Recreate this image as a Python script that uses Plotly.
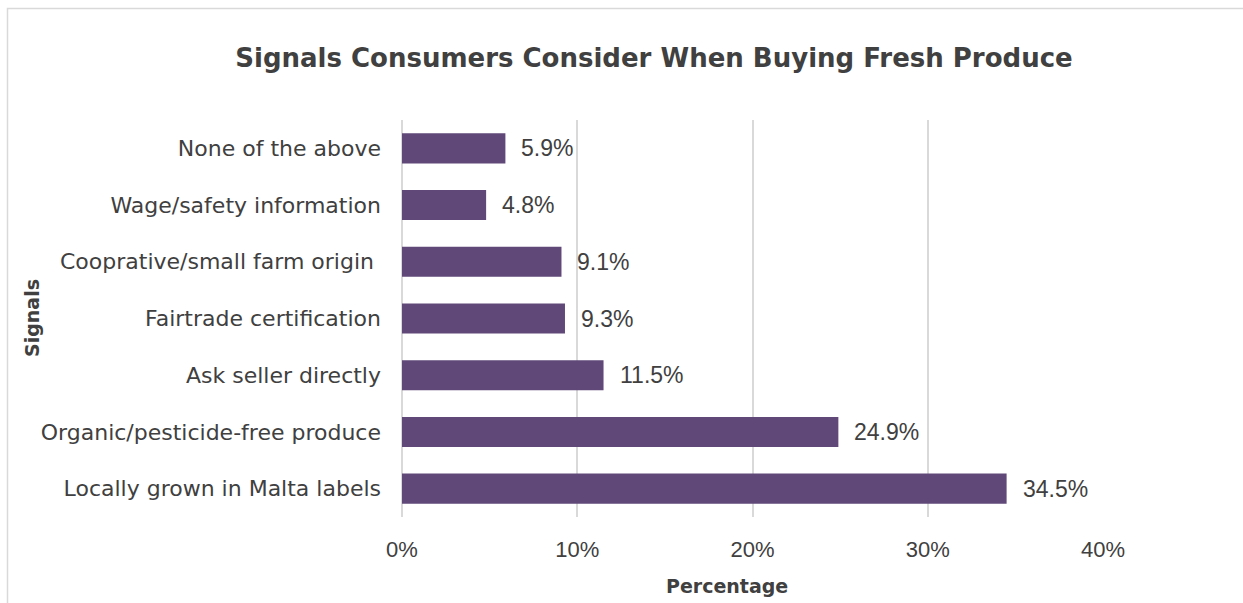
import plotly.graph_objects as go

# Survey results: share of respondents citing each signal
signals = [
    "Locally grown in Malta labels",
    "Organic/pesticide-free produce",
    "Ask seller directly",
    "Fairtrade certification",
    "Cooprative/small farm origin ",
    "Wage/safety information",
    "None of the above",
]
percent = [34.5, 24.9, 11.5, 9.3, 9.1, 4.8, 5.9]
x_ticks = [0, 10, 20, 30, 40]
x_tick_labels = ["0%", "10%", "20%", "30%", "40%"]

W, H = 1243, 603
L, R, T, B = 402, 140, 120, 86
PW, PH = W - L - R, H - T - B

BAR = "#604878"
TXT = "#404040"
GRID = "#d9d9d9"
CAT_FONT = "DejaVu Sans"
NUM_FONT = "Liberation Sans"

fig = go.Figure(
    go.Bar(
        x=percent,
        y=signals,
        orientation="h",
        marker=dict(color=BAR, line=dict(width=0)),
        hoverinfo="skip",
    )
)

# value labels just past each bar end
for v, s in zip(percent, signals):
    fig.add_annotation(
        x=v, y=s, text=f"{v:.1f}%", showarrow=False,
        xanchor="left", yanchor="middle", xshift=14, yshift=0,
        font=dict(family=NUM_FONT, size=23, color=TXT),
    )

# axis titles
fig.add_annotation(
    xref="paper", yref="paper", x=(727 - L) / PW, y=(H - B - 586) / PH,
    text="<b>Percentage</b>", showarrow=False, xanchor="center", yanchor="middle",
    font=dict(family=CAT_FONT, size=19, color=TXT),
)
fig.add_annotation(
    xref="paper", yref="paper", x=(32 - L) / PW, y=(H - B - 318) / PH,
    text="<b>Signals</b>", showarrow=False, textangle=-90,
    xanchor="center", yanchor="middle",
    font=dict(family=CAT_FONT, size=19, color=TXT),
)

# light frame around the chart
fig.add_shape(
    type="rect", xref="paper", yref="paper",
    x0=(7.5 - L) / PW, x1=(W + 20 - L) / PW,
    y0=(H - B - (H + 20)) / PH, y1=(H - B - 8.5) / PH,
    line=dict(color=GRID, width=1.5), fillcolor="rgba(0,0,0,0)", layer="below",
)

fig.update_layout(
    width=W, height=H,
    margin=dict(l=L, r=R, t=T, b=B, autoexpand=False),
    paper_bgcolor="white", plot_bgcolor="white",
    bargap=0.47,
    showlegend=False,
    title=dict(
        text="<b>Signals Consumers Consider When Buying Fresh Produce</b>",
        x=654 / W, xanchor="center", y=1 - 58 / H, yanchor="middle",
        font=dict(family=CAT_FONT, size=26, color=TXT),
    ),
    xaxis=dict(
        range=[0, 40], tickvals=x_ticks, ticktext=x_tick_labels,
        showgrid=True, gridcolor=GRID, gridwidth=1.5,
        zeroline=True, zerolinecolor=GRID, zerolinewidth=1.5,
        showline=False, ticks="", ticklabelstandoff=17,
        tickfont=dict(family=NUM_FONT, size=22, color=TXT),
        fixedrange=True,
    ),
    yaxis=dict(
        categoryorder="array", categoryarray=signals,
        showgrid=False, showline=False, ticks="", ticklabelstandoff=20,
        tickfont=dict(family=CAT_FONT, size=22, color=TXT),
        fixedrange=True,
    ),
)

fig.write_html("out.html")
